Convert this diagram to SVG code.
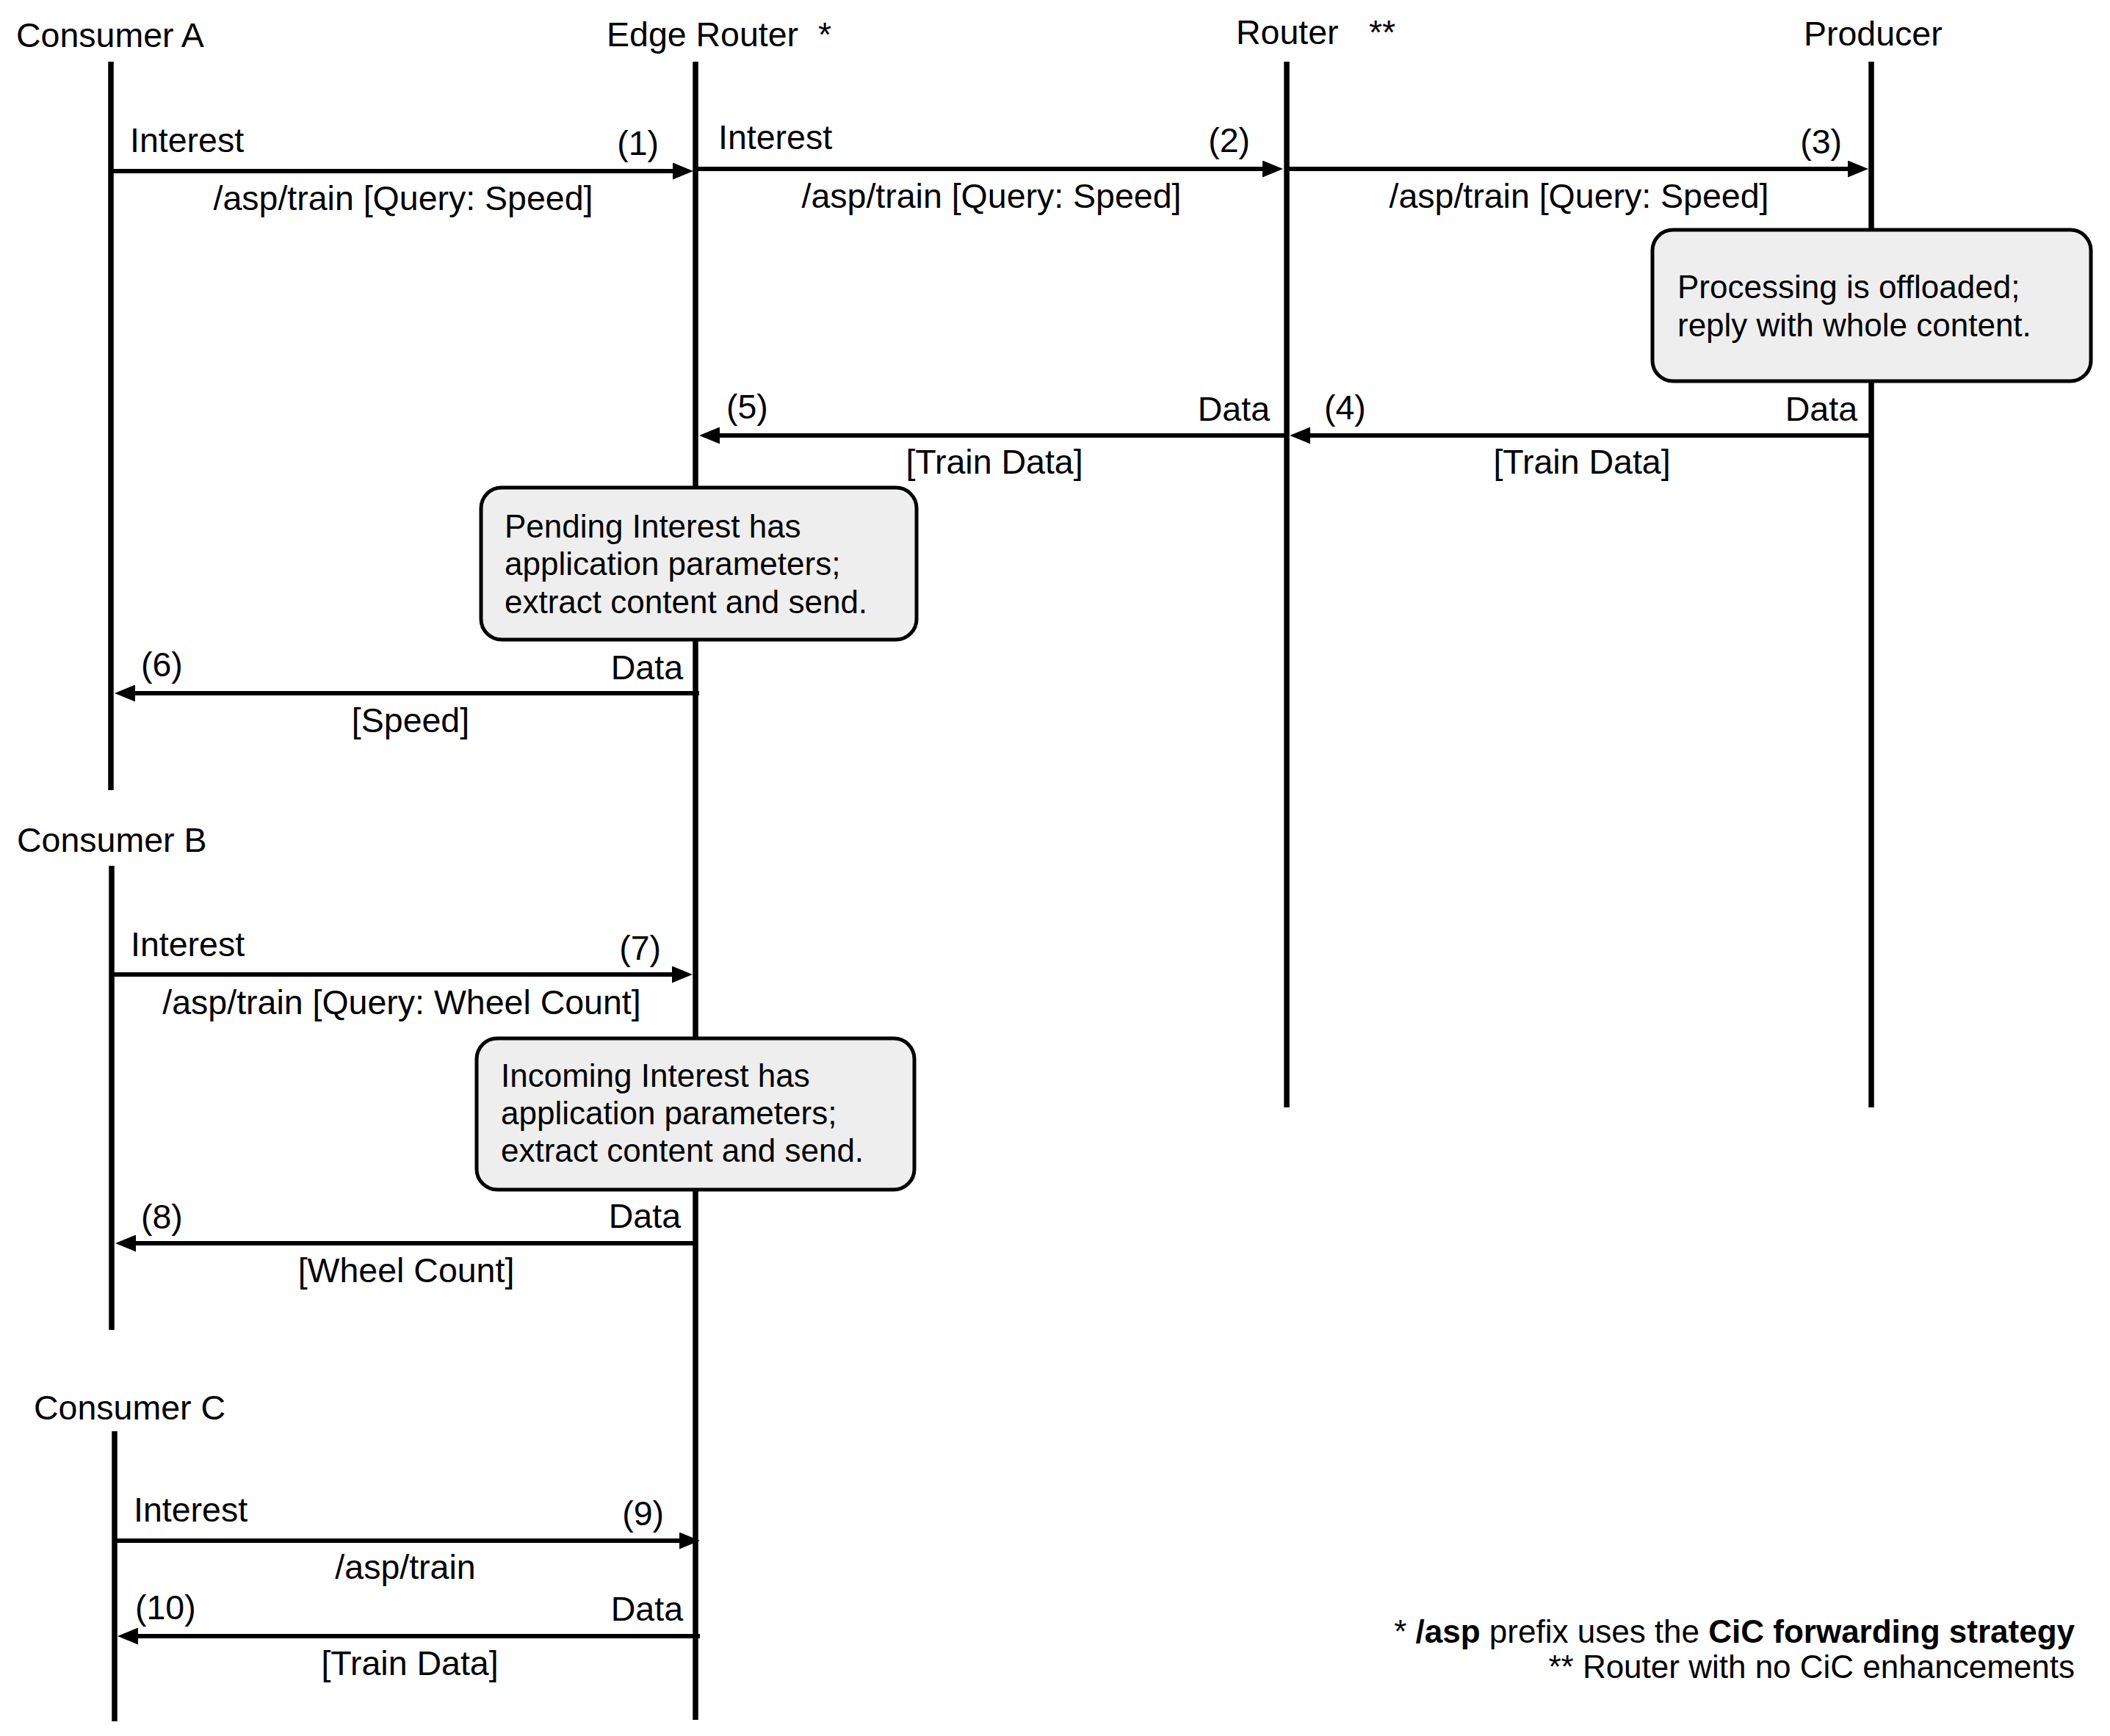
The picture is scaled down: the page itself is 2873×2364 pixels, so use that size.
<svg xmlns="http://www.w3.org/2000/svg" width="2873" height="2364" viewBox="0 0 2873 2364">
<style>
text{font-family:"Liberation Sans",Arial,sans-serif;fill:#000}
.t{font-size:46.5px}
.b{font-size:44px}
.mid{text-anchor:middle}
.end{text-anchor:end}
.life{stroke:#000;stroke-width:7.5;fill:none}
.msg{stroke:#000;stroke-width:6;fill:none;marker-end:url(#ah)}
.note{fill:#eeeeee;stroke:#000;stroke-width:5}
.bold{font-weight:bold}
</style>
<defs>
<marker id="ah" viewBox="0 0 28 23" refX="1" refY="11.5" markerWidth="28" markerHeight="23" markerUnits="userSpaceOnUse" orient="auto">
<path d="M0,0 L28,11.5 L0,23 z" fill="#000"/>
</marker>
</defs>
<rect width="2873" height="2364" fill="#fff"/>

<g id="consumerA">
<text class="t" x="22" y="64">Consumer A</text>
<line class="life" x1="151" y1="84" x2="151" y2="1076"/>
</g>
<g id="edgeRouter">
<text class="t" x="826" y="63">Edge Router</text>
<text class="t" x="1114" y="63">*</text>
<line class="life" x1="947" y1="84" x2="947" y2="2342"/>
</g>
<g id="router">
<text class="t" x="1683" y="60">Router</text>
<text class="t" x="1864" y="60">**</text>
<line class="life" x1="1752" y1="84" x2="1752" y2="1508"/>
</g>
<g id="producer">
<text class="t" x="2456" y="62">Producer</text>
<line class="life" x1="2548" y1="84" x2="2548" y2="1508"/>
</g>
<g id="consumerB">
<text class="t" x="23" y="1160">Consumer B</text>
<line class="life" x1="152" y1="1179" x2="152" y2="1811"/>
</g>
<g id="consumerC">
<text class="t" x="46" y="1933">Consumer C</text>
<line class="life" x1="156" y1="1949" x2="156" y2="2344"/>
</g>

<g id="connectors">
<path class="msg" d="M151,233 H917"/>
<path class="msg" d="M947,230 H1720"/>
<path class="msg" d="M1752,230 H2517"/>
<path class="msg" d="M2548,593 H1783"/>
<path class="msg" d="M1752,593 H979"/>
<path class="msg" d="M952,944 H183"/>
<path class="msg" d="M152,1327 H916"/>
<path class="msg" d="M947,1693 H184"/>
<path class="msg" d="M156,2098 H926"/>
<path class="msg" d="M953,2228 H187"/>
</g>

<g id="labels">
<text class="t" x="177" y="207">Interest</text>
<text class="t end" x="897" y="211">(1)</text>
<text class="t mid" x="549" y="286">/asp/train [Query: Speed]</text>

<text class="t" x="978" y="203">Interest</text>
<text class="t end" x="1702" y="207">(2)</text>
<text class="t mid" x="1350" y="283">/asp/train [Query: Speed]</text>

<text class="t end" x="2508" y="209">(3)</text>
<text class="t mid" x="2150" y="283">/asp/train [Query: Speed]</text>

<text class="t end" x="2529" y="573">Data</text>
<text class="t" x="1803" y="571">(4)</text>
<text class="t mid" x="2154" y="645">[Train Data]</text>

<text class="t end" x="1729" y="573">Data</text>
<text class="t" x="989" y="570">(5)</text>
<text class="t mid" x="1354" y="645">[Train Data]</text>

<text class="t end" x="930" y="925">Data</text>
<text class="t" x="192" y="921">(6)</text>
<text class="t mid" x="559" y="997">[Speed]</text>

<text class="t" x="178" y="1302">Interest</text>
<text class="t end" x="900" y="1307">(7)</text>
<text class="t mid" x="547" y="1381">/asp/train [Query: Wheel Count]</text>

<text class="t end" x="927" y="1672">Data</text>
<text class="t" x="192" y="1673">(8)</text>
<text class="t mid" x="553" y="1746">[Wheel Count]</text>

<text class="t" x="182" y="2072">Interest</text>
<text class="t end" x="904" y="2077">(9)</text>
<text class="t mid" x="552" y="2150">/asp/train</text>

<text class="t end" x="930" y="2207">Data</text>
<text class="t" x="184" y="2205">(10)</text>
<text class="t mid" x="558" y="2281">[Train Data]</text>
</g>

<g id="noteProducer">
<rect class="note" x="2250" y="313" width="597" height="206" rx="28" ry="28"/>
<text class="b" x="2284" y="406">Processing is offloaded;</text>
<text class="b" x="2284" y="458">reply with whole content.</text>
</g>
<g id="notePending">
<rect class="note" x="655" y="664" width="593" height="207" rx="28" ry="28"/>
<text class="b" x="687" y="732">Pending Interest has</text>
<text class="b" x="687" y="783">application parameters;</text>
<text class="b" x="687" y="835">extract content and send.</text>
</g>
<g id="noteIncoming">
<rect class="note" x="649" y="1414" width="596" height="206" rx="28" ry="28"/>
<text class="b" x="682" y="1480">Incoming Interest has</text>
<text class="b" x="682" y="1531">application parameters;</text>
<text class="b" x="682" y="1582">extract content and send.</text>
</g>

<g id="footnote">
<text class="b end" x="2825" y="2237">* <tspan class="bold">/asp</tspan> prefix uses the <tspan class="bold">CiC forwarding strategy</tspan></text>
<text class="b end" x="2825" y="2285">** Router with no CiC enhancements</text>
</g>
</svg>
